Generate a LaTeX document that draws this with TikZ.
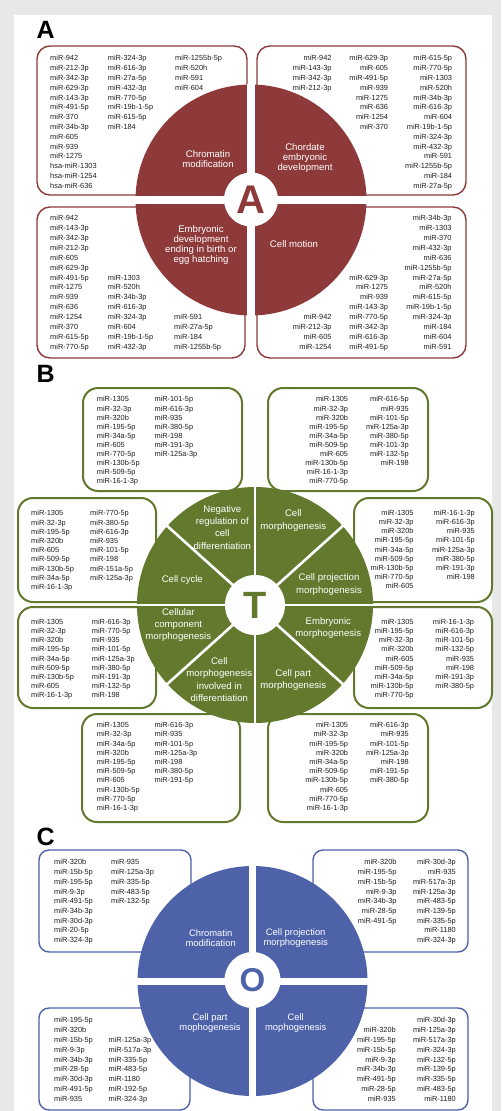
\documentclass[tikz,border=0pt]{standalone}
\usepackage{fontspec}
\setmainfont{Liberation Sans}
\definecolor{cA}{RGB}{142,58,58}
\definecolor{cB}{RGB}{99,122,46}
\definecolor{cC}{RGB}{78,98,170}
\definecolor{bgg}{RGB}{232,232,232}
\definecolor{txt}{RGB}{30,30,30}
\newcommand{\mircol}[6]{%
  \foreach \mtxt [count=\mi] in {#6}{%
    \node[mir, anchor=#5] (#1-\mi) at (#2, {#3+2.6+#4*(\mi-1)}) {\mtxt};}}
\tikzset{
  mir/.style={font=\fontsize{7.4}{9}\selectfont, text=txt, inner sep=0pt},
  panellbl/.style={font=\fontsize{25}{25}\selectfont\bfseries, inner sep=0pt, anchor=base west},
  lblA/.style={font=\fontsize{9.6}{10}\selectfont, text=white, align=center, inner sep=0pt},
  lblB/.style={font=\fontsize{9.6}{12.4}\selectfont, text=white, align=center, inner sep=0pt},
  lblC/.style={font=\fontsize{9.4}{9.6}\selectfont, text=white, align=center, inner sep=0pt},
  boxA/.style={draw=cA, line width=1.4pt, rounded corners=13pt},
  boxB/.style={draw=cB, line width=2pt, rounded corners=15pt},
  boxC/.style={draw=cC, line width=1.4pt, rounded corners=10pt},
  disc/.style={circle, inner sep=0pt, draw=none},
  core/.style={circle, inner sep=0pt, fill=white, draw=none},
  gapline/.style={draw=white},
}
\begin{document}
\begin{tikzpicture}[x=1pt,y=-1pt]
\useasboundingbox (0,0) rectangle (501,1111);
\fill[bgg] (0,0) rectangle (501,1111);
\fill[white] (14,15) rectangle (492,1111);

% ================= PANEL A =================
\node[panellbl] (labA) at (36.5,38) {A};
\draw[boxA] (37,46) rectangle (247,195);
\draw[boxA] (257,46) rectangle (466,195);
\draw[boxA] (37,207) rectangle (245,358);
\draw[boxA] (257,207) rectangle (466,358);
\node[disc, fill=cA, minimum size=231] (Adisc) at (251,200) {};
\draw[gapline, line width=7.5pt] (Adisc.west) -- (Adisc.east);
\draw[gapline, line width=7.5pt] (Adisc.north) -- (Adisc.south);
\node[core, minimum size=54] (Acore) at (251,199.5) {};
\node[font=\fontsize{40}{40}\selectfont\bfseries, text=cA, inner sep=0pt] (Aletter) at (Acore) {A};
\node[lblA] (Al1) at (208,159) {Chromatin\\modification};
\node[lblA] (Al2) at (305,158.5) {Chordate\\embryonic\\development};
\node[lblA] (Al3) at (201,244.6) {Embryonic\\development\\ending in birth or\\egg hatching};
\node[lblA] (Al4) at (294,244.3) {Cell motion};

\mircol{ATLa}{50}{58.3}{9.8}{base west}{miR-942,miR-212-3p,miR-342-3p,miR-629-3p,miR-143-3p,miR-491-5p,miR-370,miR-34b-3p,miR-605,miR-939,miR-1275,hsa-miR-1303,hsa-miR-1254,hsa-miR-636}
\mircol{ATLb}{107.7}{58.3}{9.8}{base west}{miR-324-3p,miR-616-3p,miR-27a-5p,miR-432-3p,miR-770-5p,miR-19b-1-5p,miR-615-5p,miR-184}
\mircol{ATLc}{175}{58.3}{9.8}{base west}{miR-1255b-5p,miR-520h,miR-591,miR-604}

\mircol{ATRa}{331.7}{58.3}{9.8}{base east}{miR-942,miR-143-3p,miR-342-3p,miR-212-3p}
\mircol{ATRb}{388.3}{58.3}{9.8}{base east}{miR-629-3p,miR-605,miR-491-5p,miR-939,miR-1275,miR-636,miR-1254,miR-370}
\mircol{ATRc}{452.3}{58.3}{9.8}{base east}{miR-615-5p,miR-770-5p,miR-1303,miR-520h,miR-34b-3p,miR-616-3p,miR-604,miR-19b-1-5p,miR-324-3p,miR-432-3p,miR-591,miR-1255b-5p,miR-184,miR-27a-5p}

\mircol{ABLa}{50}{218.3}{9.87}{base west}{miR-942,miR-143-3p,miR-342-3p,miR-212-3p,miR-605,miR-629-3p,miR-491-5p,miR-1275,miR-939,miR-636,miR-1254,miR-370,miR-615-5p,miR-770-5p}
\mircol{ABLb}{107.7}{277.5}{9.87}{base west}{miR-1303,miR-520h,miR-34b-3p,miR-616-3p,miR-324-3p,miR-604,miR-19b-1-5p,miR-432-3p}
\mircol{ABLc}{174}{317}{9.87}{base west}{miR-591,miR-27a-5p,miR-184,miR-1255b-5p}

\mircol{ABRc}{451.7}{218.3}{9.87}{base east}{miR-34b-3p,miR-1303,miR-370,miR-432-3p,miR-636,miR-1255b-5p,miR-27a-5p,miR-520h,miR-615-5p,miR-19b-1-5p,miR-324-3p,miR-184,miR-604,miR-591}
\mircol{ABRb}{388.3}{277.5}{9.87}{base east}{miR-629-3p,miR-1275,miR-939,miR-143-3p,miR-770-5p,miR-342-3p,miR-616-3p,miR-491-5p}
\mircol{ABRa}{331.7}{317}{9.87}{base east}{miR-942,miR-212-3p,miR-605,miR-1254}

% ================= PANEL B =================
\node[panellbl] (labB) at (36.5,382) {B};
\draw[boxB] (83,388) rectangle (242,491);
\draw[boxB] (268,388) rectangle (428,491);
\draw[boxB] (18,498) rectangle (156,602);
\draw[boxB] (18,607) rectangle (156,708);
\draw[boxB] (354,498) rectangle (492,602);
\draw[boxB] (354,607) rectangle (492,708);
\draw[boxB] (82,714) rectangle (240,822);
\draw[boxB] (268,714) rectangle (428,822);
\node[disc, fill=cB, minimum size=236] (Bdisc) at (255,605) {};
\foreach \ang in {0,42,90,138,180,222,270,318}
  \draw[gapline, line width=2.6pt] (Bdisc.center) -- ++(\ang:119);
\node[core, minimum size=60] (Bcore) at (255,605) {};
\node[font=\fontsize{38}{38}\selectfont\bfseries, text=cB, inner sep=0pt] (Bletter) at (Bcore) {T};
\node[lblB] (Bl1) at (222.3,527.2) {Negative\\regulation of\\cell\\differentiation};
\node[lblB] (Bl2) at (293.3,520.5) {Cell\\morphogenesis};
\node[lblB] (Bl3) at (329,584.5) {Cell projection\\morphogenesis};
\node[lblB] (Bl4) at (182.3,580) {Cell cycle};
\node[lblB] (Bl5) at (178.3,625) {Cellular\\component\\morphogenesis};
\node[lblB] (Bl6) at (219.3,679.4) {Cell\\morphogenesis\\involved in\\differentiation};
\node[lblB] (Bl7) at (293.3,680) {Cell part\\morphogenesis};
\node[lblB] (Bl8) at (328.3,627.8) {Embryonic\\morphogenesis};

\mircol{BTLa}{96.7}{399.3}{9.1}{base west}{miR-1305,miR-32-3p,miR-320b,miR-195-5p,miR-34a-5p,miR-605,miR-770-5p,miR-130b-5p,miR-509-5p,miR-16-1-3p}
\mircol{BTLb}{154.3}{399.3}{9.1}{base west}{miR-101-5p,miR-616-3p,miR-935,miR-380-5p,miR-198,miR-191-3p,miR-125a-3p}
\mircol{BTRa}{348.3}{399.3}{9.1}{base east}{miR-1305,miR-32-3p,miR-320b,miR-195-5p,miR-34a-5p,miR-509-5p,miR-605,miR-130b-5p,miR-16-1-3p,miR-770-5p}
\mircol{BTRb}{409}{399.3}{9.1}{base east}{miR-616-5p,miR-935,miR-101-5p,miR-125a-3p,miR-380-5p,miR-101-3p,miR-132-5p,miR-198}

\mircol{BLa}{31}{513.3}{9.2}{base west}{miR-1305,miR-32-3p,miR-195-5p,miR-320b,miR-605,miR-509-5p,miR-130b-5p,miR-34a-5p,miR-16-1-3p}
\mircol{BLb}{90}{513.3}{9.2}{base west}{miR-770-5p,miR-380-5p,miR-616-3p,miR-935,miR-101-5p,miR-198,miR-151a-5p,miR-125a-3p}
\mircol{BLLa}{31}{621.7}{9.2}{base west}{miR-1305,miR-32-3p,miR-320b,miR-195-5p,miR-34a-5p,miR-509-5p,miR-130b-5p,miR-605,miR-16-1-3p}
\mircol{BLLb}{91.7}{621.7}{9.2}{base west}{miR-616-3p,miR-770-5p,miR-935,miR-101-5p,miR-125a-3p,miR-380-5p,miR-191-3p,miR-132-5p,miR-198}

\mircol{BRa}{413.7}{512.7}{9.2}{base east}{miR-1305,miR-32-3p,miR-320b,miR-195-5p,miR-34a-5p,miR-509-5p,miR-130b-5p,miR-770-5p,miR-605}
\mircol{BRb}{475}{512.7}{9.2}{base east}{miR-16-1-3p,miR-616-3p,miR-935,miR-101-5p,miR-125a-3p,miR-380-5p,miR-191-3p,miR-198}
\mircol{BRLa}{413.7}{621.7}{9.2}{base east}{miR-1305,miR-195-5p,miR-32-3p,miR-320b,miR-605,miR-509-5p,miR-34a-5p,miR-130b-5p,miR-770-5p}
\mircol{BRLb}{474.3}{621.7}{9.2}{base east}{miR-16-1-3p,miR-616-3p,miR-101-5p,miR-132-5p,miR-935,miR-198,miR-191-3p,miR-380-5p}

\mircol{BBLa}{96.7}{725}{9.2}{base west}{miR-1305,miR-32-3p,miR-34a-5p,miR-320b,miR-195-5p,miR-509-5p,miR-605,miR-130b-5p,miR-770-5p,miR-16-1-3p}
\mircol{BBLb}{154.3}{725}{9.2}{base west}{miR-616-3p,miR-935,miR-101-5p,miR-125a-3p,miR-198,miR-380-5p,miR-191-5p}
\mircol{BBRa}{348.3}{725}{9.2}{base east}{miR-1305,miR-32-3p,miR-195-5p,miR-320b,miR-34a-5p,miR-509-5p,miR-130b-5p,miR-605,miR-770-5p,miR-16-1-3p}
\mircol{BBRb}{409}{725}{9.2}{base east}{miR-616-3p,miR-935,miR-101-5p,miR-125a-3p,miR-198,miR-191-5p,miR-380-5p}

% ================= PANEL C =================
\node[panellbl] (labC) at (36.5,845) {C};
\draw[boxC] (39,850) rectangle (191,952);
\draw[boxC] (313,850) rectangle (468,952);
\draw[boxC] (39,1008) rectangle (190,1110);
\draw[boxC] (313,1008) rectangle (468,1110);
\node[disc, fill=cC, minimum size=230] (Cdisc) at (252.5,981) {};
\draw[gapline, line width=7pt] (Cdisc.west) -- (Cdisc.east);
\draw[gapline, line width=7pt] (Cdisc.north) -- (Cdisc.south);
\node[core, minimum size=56] (Ccore) at (252.5,980) {};
\node[font=\fontsize{33}{33}\selectfont\bfseries, text=cC, inner sep=0pt] (Cletter) at (Ccore) {O};
\node[lblC] (Cl1) at (210.7,938) {Chromatin\\modification};
\node[lblC] (Cl2) at (295.7,938) {Cell projection\\morphogenesis};
\node[lblC] (Cl3) at (210,1023) {Cell part\\mophogenesis};
\node[lblC] (Cl4) at (295.7,1023) {Cell\\mophogenesis};

\mircol{CTLa}{54}{862.3}{9.7}{base west}{miR-320b,miR-15b-5p,miR-195-5p,miR-9-3p,miR-491-5p,miR-34b-3p,miR-30d-3p,miR-20-5p,miR-324-3p}
\mircol{CTLb}{111}{862.3}{9.7}{base west}{miR-935,miR-125a-3p,miR-335-5p,miR-483-5p,miR-132-5p}
\mircol{CTRa}{396.7}{862.3}{9.7}{base east}{miR-320b,miR-195-5p,miR-15b-5p,miR-9-3p,miR-34b-3p,miR-28-5p,miR-491-5p}
\mircol{CTRb}{456}{862.3}{9.7}{base east}{miR-30d-3p,miR-935,miR-517a-3p,miR-125a-3p,miR-483-5p,miR-139-5p,miR-335-5p,miR-1180,miR-324-3p}

\mircol{CBLa}{54}{1020}{9.85}{base west}{miR-195-5p,miR-320b,miR-15b-5p,miR-9-3p,miR-34b-3p,miR-28-5p,miR-30d-3p,miR-491-5p,miR-935}
\mircol{CBLb}{108.3}{1039.7}{9.85}{base west}{miR-125a-3p,miR-517a-3p,miR-335-5p,miR-483-5p,miR-1180,miR-192-5p,miR-324-3p}
\mircol{CBRb}{456}{1020}{9.85}{base east}{miR-30d-3p,miR-125a-3p,miR-517a-3p,miR-324-3p,miR-132-5p,miR-139-5p,miR-335-5p,miR-483-5p,miR-1180}
\mircol{CBRa}{396}{1029.85}{9.85}{base east}{miR-320b,miR-195-5p,miR-15b-5p,miR-9-3p,miR-34b-3p,miR-491-5p,miR-28-5p,miR-935}
\end{tikzpicture}
\end{document}
